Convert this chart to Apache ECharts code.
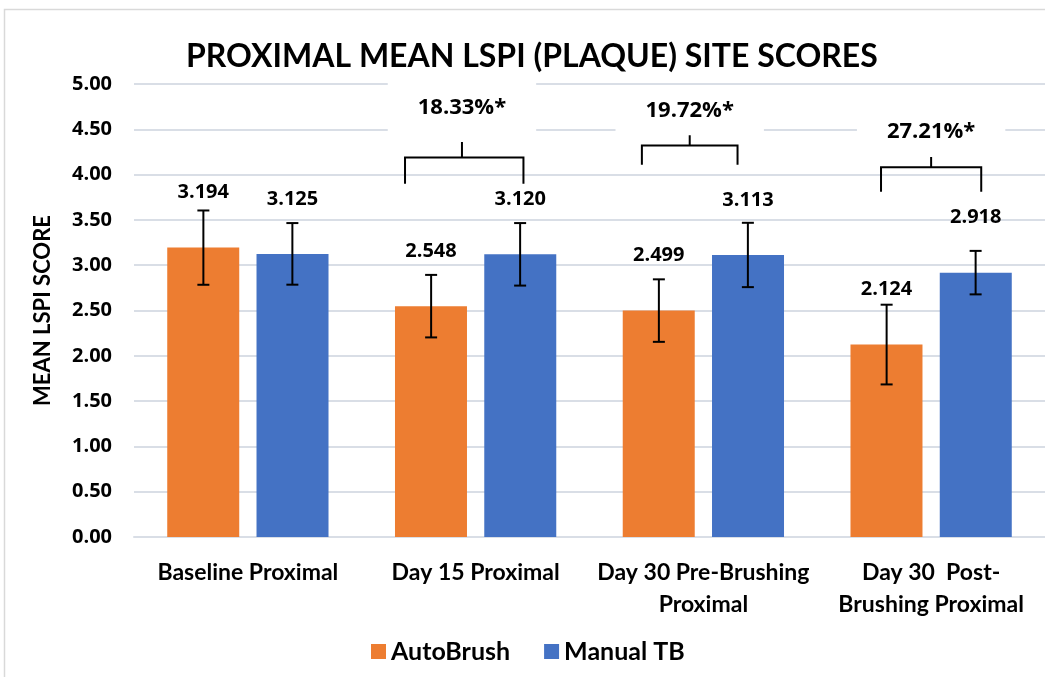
<!DOCTYPE html>
<html>
<head>
<meta charset="utf-8">
<script src="https://cdn.jsdelivr.net/npm/echarts@6/dist/echarts.min.js"></script>
<style>
  html, body { margin: 0; padding: 0; background: #fff; }
  #box { width: 1045px; height: 677px; }
</style>
</head>
<body>
<div id="box"></div>
<script>
// data
var categories = ["Baseline Proximal", "Day 15 Proximal", "Day 30 Pre-Brushing\nProximal", "Day 30  Post-\nBrushing Proximal"];
var autoBrush = [3.194, 2.548, 2.499, 2.124];
var manualTB = [3.125, 3.120, 3.113, 2.918];
var autoErr = [0.41, 0.345, 0.345, 0.44];
var manualErr = [0.34, 0.345, 0.355, 0.24];
// significance brackets: x in category units, heights in score units
var bracketLabels = ["18.33%*", "19.72%*", "27.21%*"];
var bracketLeft = [0.69, 1.73, 2.78];
var bracketRight = [1.21, 2.15, 3.22];
var bracketMid = [0.94, 1.94, 3.00];
var bracketTop = [4.19, 4.32, 4.08];
var bracketLeg = [3.90, 4.11, 3.81];
var bracketStem = [4.36, 4.47, 4.30];
var bracketTextY = [4.74, 4.71, 4.47];

var ORANGE = "#ED7D31", BLUE = "#4472C4";
var CAL = "Lato, 'Noto Sans', sans-serif";
var SEG = "'Open Sans', 'Noto Sans', sans-serif";
var HALF = 44.5; // half distance between the two bar centres

function errData(vals, errs) {
  return vals.map(function (v, i) { return [i, v, errs[i]]; });
}

function errItem(offset) {
  return function (params, api) {
    var c = api.value(0), v = api.value(1), e = api.value(2);
    var hi = api.coord([c, v + e]);
    var lo = api.coord([c, v - e]);
    var x = hi[0] + offset;
    var st = { stroke: "#000", lineWidth: 2 };
    return {
      type: "group",
      children: [
        { type: "line", shape: { x1: x, y1: hi[1], x2: x, y2: lo[1] }, style: st },
        { type: "line", shape: { x1: x - 6, y1: hi[1], x2: x + 6, y2: hi[1] }, style: st },
        { type: "line", shape: { x1: x - 6, y1: lo[1], x2: x + 6, y2: lo[1] }, style: st }
      ]
    };
  };
}

// fractional position along the category axis
function xAt(api, v) {
  var c = Math.round(v);
  return api.coord([c, 0])[0] + (v - c) * api.size([1, 0])[0];
}
function yAt(api, v) {
  return api.coord([0, v])[1];
}

var bracketData = bracketLabels.map(function (t, i) {
  return [Math.round(bracketMid[i]), bracketTop[i]];
});

var myChart = echarts.init(document.getElementById("box"));
var option = {
  animation: false,
  backgroundColor: "#fff",
  graphic: [
    {
      type: "rect", left: 2, top: 7, z: -10,
      shape: { width: 1100, height: 720 },
      style: { fill: "none", stroke: "#D9D9D9", lineWidth: 1.5 }
    }
  ],
  title: {
    text: "PROXIMAL MEAN LSPI (PLAQUE) SITE SCORES",
    left: 181,
    top: 36,
    textStyle: { fontFamily: CAL, fontWeight: "bold", fontSize: 32, color: "#000" }
  },
  legend: {
    data: ["AutoBrush", "Manual TB"],
    bottom: 8,
    left: 366,
    icon: "rect",
    itemWidth: 15,
    itemHeight: 15,
    itemGap: 34,
    textStyle: { fontFamily: CAL, fontWeight: "bold", fontSize: 25, color: "#000" }
  },
  grid: { left: 134, width: 916, top: 84, bottom: 140 },
  xAxis: {
    type: "category",
    data: categories,
    axisLine: { show: true, lineStyle: { color: "#D9DEE6", width: 2 } },
    axisTick: { show: false },
    axisLabel: {
      interval: 0,
      margin: 20,
      lineHeight: 32,
      fontFamily: CAL, fontWeight: "bold", fontSize: 23, color: "#000"
    }
  },
  yAxis: {
    type: "value",
    min: 0,
    max: 5,
    interval: 0.5,
    name: "MEAN LSPI SCORE",
    nameLocation: "middle",
    nameRotate: 90,
    nameGap: 80,
    nameTextStyle: { fontFamily: CAL, fontWeight: "bold", fontSize: 22, color: "#000" },
    axisLine: { show: false },
    axisTick: { show: false },
    splitLine: { lineStyle: { color: "#D9DEE6", width: 2 } },
    axisLabel: {
      margin: 22,
      formatter: function (v) { return v.toFixed(2); },
      fontFamily: SEG, fontWeight: "bold", fontSize: 20, color: "#000"
    }
  },
  series: [
    {
      name: "AutoBrush",
      type: "bar",
      data: autoBrush,
      barWidth: 72,
      barGap: "24%",
      itemStyle: { color: ORANGE },
      label: {
        show: true, position: "top", distance: 45,
        formatter: function (p) { return p.value.toFixed(3); },
        fontFamily: SEG, fontWeight: "bold", fontSize: 20, color: "#000"
      }
    },
    {
      name: "Manual TB",
      type: "bar",
      data: manualTB,
      barWidth: 72,
      itemStyle: { color: BLUE },
      label: {
        show: true, position: "top", distance: 45,
        formatter: function (p) { return p.value.toFixed(3); },
        fontFamily: SEG, fontWeight: "bold", fontSize: 20, color: "#000"
      }
    },
    {
      type: "custom",
      data: errData(autoBrush, autoErr),
      encode: { x: 0, y: 1 },
      renderItem: errItem(-HALF),
      z: 5
    },
    {
      type: "custom",
      data: errData(manualTB, manualErr),
      encode: { x: 0, y: 1 },
      renderItem: errItem(HALF),
      z: 5
    },
    {
      type: "custom",
      data: bracketData,
      encode: { x: 0, y: 1 },
      z: 6,
      renderItem: function (params, api) {
        var i = params.dataIndex;
        var xl = xAt(api, bracketLeft[i]);
        var xr = xAt(api, bracketRight[i]);
        var xm = xAt(api, bracketMid[i]);
        var y = yAt(api, bracketTop[i]);
        var yl = yAt(api, bracketLeg[i]);
        var ys = yAt(api, bracketStem[i]);
        var yt = yAt(api, bracketTextY[i]);
        var st = { stroke: "#000", lineWidth: 2, fill: "none" };
        return {
          type: "group",
          children: [
            { type: "polyline", shape: { points: [[xl, yl], [xl, y], [xr, y], [xr, yl]] }, style: st },
            { type: "line", shape: { x1: xm, y1: y, x2: xm, y2: ys }, style: st },
            {
              type: "text", x: xm, y: yt,
              style: {
                text: bracketLabels[i], align: "center", verticalAlign: "middle",
                fill: "#000", font: "bold 22px 'Open Sans', sans-serif",
                backgroundColor: "#fff", padding: [14, 30]
              }
            }
          ]
        };
      }
    }
  ]
};
myChart.setOption(option);
</script>
</body>
</html>
